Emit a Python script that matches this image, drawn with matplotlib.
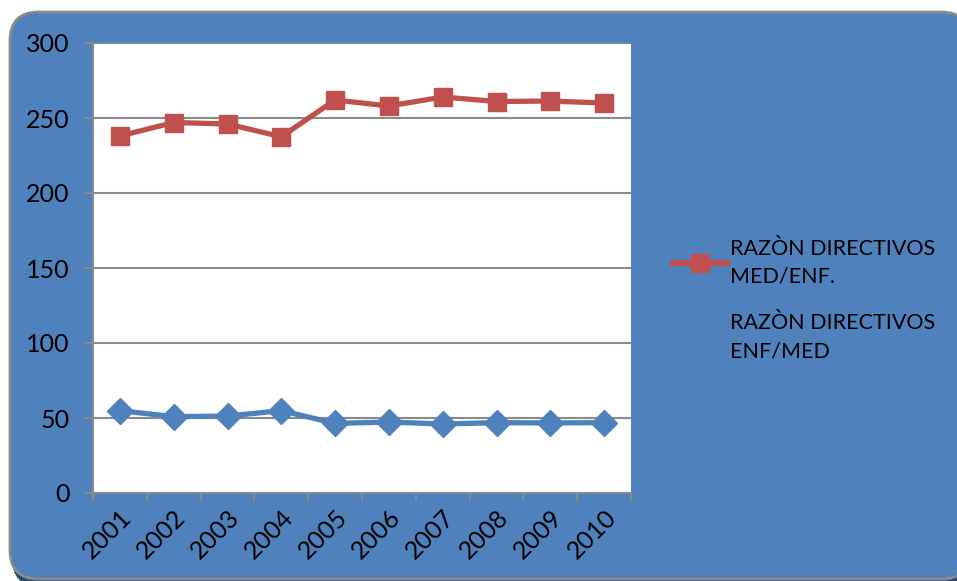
import matplotlib.pyplot as plt
from matplotlib.patches import FancyBboxPatch

years = ["2001", "2002", "2003", "2004", "2005", "2006", "2007", "2008", "2009", "2010"]
med_enf = [238, 247, 246, 237.5, 262, 258, 264, 261, 261.3, 260]
enf_med = [54.9, 50.9, 51.3, 54.9, 46.4, 47.3, 46.0, 46.9, 46.7, 46.9]

plt.rcParams['font.family'] = ['Lato', 'DejaVu Sans']

fig = plt.figure(figsize=(9.57, 5.81), dpi=100)
fig.patch.set_facecolor('white')

# rounded blue chart area with a soft shadow along the bottom
W, H = 957.0, 581.0
shadow = FancyBboxPatch((12 / W, -6 / H), 960 / W, (581 - 14) / H,
                        boxstyle="round,pad=0,rounding_size=0.03",
                        transform=fig.transFigure, facecolor='#2d4a70',
                        edgecolor='none', zorder=0, mutation_aspect=W / H)
fig.patches.append(shadow)
box = FancyBboxPatch((10 / W, 2 / H), 960 / W, (581 - 12 - 2) / H,
                     boxstyle="round,pad=0,rounding_size=0.03",
                     transform=fig.transFigure, facecolor='#4f81bd',
                     edgecolor='#8a8a8a', linewidth=2, zorder=1, mutation_aspect=W / H)
fig.patches.append(box)

ax = fig.add_axes([93 / W, 88 / H, 538 / W, 450 / H])
ax.set_facecolor('white')
ax.set_zorder(2)

x = range(len(years))
ax.plot(x, med_enf, color='#c0504d', lw=3.8, marker='s', ms=13.5,
        label="RAZÒN DIRECTIVOS\nMED/ENF.")
ax.plot(x, enf_med, color='#4f81bd', lw=3.8, marker='D', ms=13,
        label="RAZÒN DIRECTIVOS\nENF/MED")

ax.set_xlim(-0.5, len(years) - 0.5)
ax.set_ylim(0, 300)
ax.set_yticks(range(0, 301, 50))
ax.grid(axis='y', color='#8a8a8a', lw=1.5)
ax.set_axisbelow(True)

ax.set_xticks([i - 0.5 for i in range(len(years) + 1)], minor=False)
ax.set_xticklabels([])
ax.set_xticks(list(x), minor=True)
ax.set_xticklabels(years, minor=True, rotation=45, ha='right',
                   rotation_mode='anchor', fontsize=18)
ax.tick_params(axis='x', which='minor', length=0, pad=9)
ax.tick_params(axis='x', which='major', length=6, color='#8a8a8a', width=1.5)
ax.tick_params(axis='y', length=6, color='#8a8a8a', width=1.5, labelsize=18, pad=11)

for side in ['top', 'right']:
    ax.spines[side].set_visible(False)
for side in ['left', 'bottom']:
    ax.spines[side].set_color('#8a8a8a')
    ax.spines[side].set_linewidth(1.5)

leg = fig.legend(loc='center left', bbox_to_anchor=(654 / W, 1 - 300 / H),
                 frameon=False, fontsize=15.5, handlelength=2.5,
                 labelspacing=1.25, handletextpad=0.15)
for line in leg.get_lines():
    line.set_markersize(13)
    line.set_linewidth(4.5)
for t in leg.get_texts():
    t.set_linespacing(1.5)

fig.savefig('out.png', dpi=100)
